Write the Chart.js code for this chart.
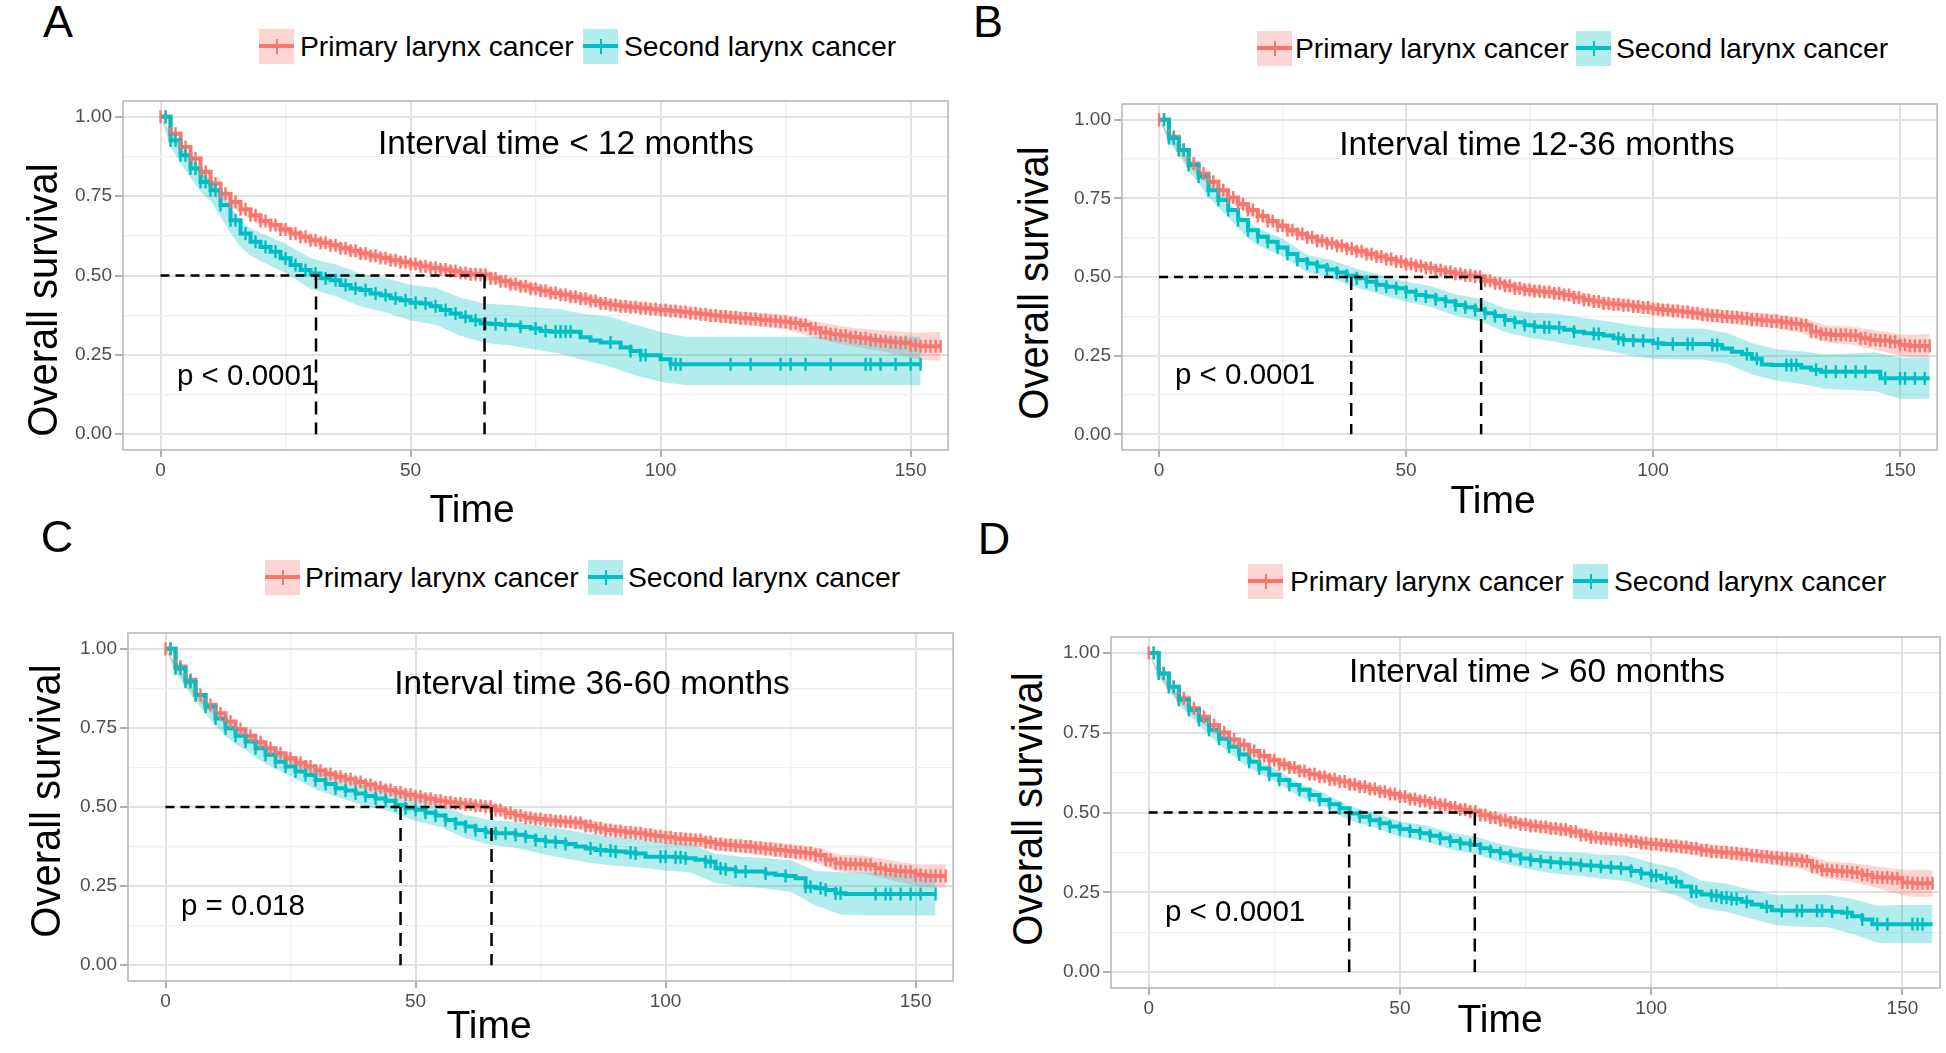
<!DOCTYPE html>
<html>
<head>
<meta charset="utf-8">
<script src="https://cdn.jsdelivr.net/npm/chart.js@4.4.1/dist/chart.umd.min.js"></script>
<style>
  body { margin: 0; width: 1946px; height: 1053px; background: #fff; position: relative; overflow: hidden;
         font-family: "Liberation Sans", Arial, sans-serif; }
  canvas { position: absolute; }
  .t { position: absolute; white-space: nowrap; line-height: 1; color: #000; z-index: 2; }
  .key { position: absolute; width: 35px; height: 35px; z-index: 2; }
  .key i { position: absolute; left: 0; right: 0; top: 15.5px; height: 4px; }
  .key b { position: absolute; left: 16.5px; top: 10px; width: 2px; height: 15px; }
</style>
</head>
<body>
<script>
// time grid of the curves (months)
const months = [0,2,4,6,8,10,12,14,16,18,20,22,24,26,28,30,32,34,36,38,40,42,44,46,48,50,52,54,56,58,
  60,62,64,66,68,70,72,74,76,78,80,82,84,86,88,90,92,94,96,98,100,102,104,106,108,110,112,114,116,118,
  120,122,124,126,128,130,132,134,136,138,140,142,144,146,148,150,152,154,156];
const oddMonths = [1,3,5,7,9,11,13,15,17,19,21,23,25,27,29,31,33,35,37,39,41,43,45,47,49,51,53,55,57,59,
  61,63,65,67,69,71,73,75,77,79,81,83,85,87,89,91,93,95,97,99,101,103,105,107,109,111,113,115,117,119,
  121,123,125,127,129,131,133,135,137,139,141,143,145,147,149,151,153,155];
const bandMonths = [0,2,4,6,8,10,12,14,16,18,20,25,30,35,40,45,50,55,60,65,70,75,80,85,90,95,100,105,110,
  115,120,125,130,135,140,145,150,152,154,156];

const xMajor = [0, 50, 100, 150];
const xMinor = [25, 75, 125];
const yMajor = [0, 0.25, 0.5, 0.75, 1];
const yMinor = [0.125, 0.375, 0.625, 0.875];
const seriesNames = ['Primary larynx cancer', 'Second larynx cancer'];

// ---- A: interval < 12 months
const aPrimary = [1.000,0.947,0.905,0.869,0.827,0.790,0.758,0.732,0.709,0.690,
  0.672,0.659,0.645,0.632,0.622,0.611,0.603,0.595,0.586,0.578,
  0.569,0.562,0.555,0.548,0.542,0.536,0.529,0.524,0.519,0.514,
  0.508,0.504,0.502,0.491,0.482,0.473,0.466,0.458,0.452,0.445,
  0.439,0.433,0.427,0.420,0.412,0.407,0.403,0.400,0.397,0.394,
  0.391,0.388,0.385,0.381,0.378,0.374,0.371,0.368,0.365,0.363,
  0.360,0.357,0.354,0.350,0.344,0.333,0.320,0.315,0.311,0.306,
  0.302,0.297,0.293,0.290,0.288,0.280,0.277,0.277,0.277];
const aSecond = [1.000,0.926,0.879,0.837,0.795,0.769,0.722,0.674,0.632,0.606,
  0.590,0.575,0.554,0.533,0.517,0.506,0.491,0.485,0.470,0.459,
  0.454,0.443,0.438,0.428,0.422,0.414,0.412,0.403,0.391,0.380,
  0.370,0.359,0.349,0.347,0.345,0.343,0.338,0.333,0.325,0.323,
  0.323,0.323,0.305,0.295,0.289,0.289,0.273,0.262,0.249,0.249,
  0.236,0.220,0.220,0.220,0.220,0.220,0.220,0.220,0.220,0.220,
  0.220,0.220,0.220,0.220,0.220,0.220,0.220,0.220,0.220,0.220,
  0.220,0.220,0.220,0.220,0.220,0.220,0.220];
const aPrimaryLo = [1.000,.939,.896,.859,.817,.779,.747,.720,.697,.678,.660,.632,.598,.582,.555,.541,.522,.510,.493,.487,
  .458,.442,.423,.411,.390,.383,.373,.367,.355,.348,.339,.331,.307,.287,.272,.259,.240,.234,.233,.232];
const aPrimaryHi = [1.000,.955,.914,.879,.837,.801,.769,.744,.721,.702,.684,.658,.624,.608,.583,.569,.550,.538,.523,.517,
  .488,.474,.455,.443,.424,.417,.409,.403,.393,.388,.381,.377,.359,.343,.332,.327,.320,.320,.321,.322];
const aSecondLo = [1.000,.906,.854,.809,.764,.735,.685,.634,.590,.563,.546,.508,.458,.435,.402,.384,.358,.345,.310,.287,
  .279,.266,.253,.232,.212,.185,.165,.154,.154,.154,.154,.154,.154,.154,.154,.154,.154,.154];
const aSecondHi = [1.000,.946,.904,.865,.826,.803,.759,.714,.674,.649,.634,.600,.554,.535,.506,.492,.470,.461,.430,.411,
  .407,.400,.393,.378,.370,.345,.322,.307,.307,.307,.307,.307,.307,.307,.307,.307,.307,.307];
const aSecondCensor = [1,2,3,4,5,6,7,8,9,10,11,12,14,15,17,19,21,23,25,27,29,31,33,35,37,39,41,43,45,47,49,51,53,55,
  57,59,61,63,65,67,69,72,75,77,79,80,81,82,90,94,96,97,102,103,104,114,118,124,126,129,134,141,142,144,147,150,152];
const medianA = [31.1, 64.8];

// ---- B: interval 12-36 months
const bPrimary = [1.000,0.946,0.904,0.861,0.829,0.803,0.776,0.753,0.732,0.713,
  0.694,0.678,0.663,0.649,0.637,0.626,0.615,0.607,0.599,0.590,
  0.582,0.573,0.565,0.557,0.549,0.541,0.535,0.529,0.522,0.516,
  0.510,0.505,0.501,0.488,0.480,0.472,0.464,0.459,0.455,0.452,
  0.448,0.443,0.435,0.427,0.422,0.416,0.413,0.410,0.406,0.403,
  0.398,0.395,0.392,0.389,0.385,0.380,0.377,0.374,0.372,0.369,
  0.365,0.362,0.359,0.355,0.351,0.347,0.326,0.319,0.316,0.316,
  0.314,0.305,0.300,0.298,0.294,0.284,0.281,0.281,0.281];
const bSecond = [1.000,0.941,0.904,0.856,0.819,0.776,0.745,0.713,0.681,0.649,
  0.628,0.612,0.594,0.573,0.554,0.543,0.533,0.524,0.514,0.504,
  0.496,0.485,0.475,0.469,0.464,0.453,0.443,0.438,0.429,0.422,
  0.411,0.404,0.395,0.385,0.376,0.363,0.356,0.347,0.342,0.340,
  0.339,0.332,0.326,0.321,0.319,0.314,0.305,0.300,0.298,0.297,
  0.289,0.287,0.287,0.287,0.287,0.287,0.284,0.273,0.262,0.255,
  0.240,0.222,0.220,0.220,0.220,0.212,0.205,0.199,0.199,0.199,
  0.199,0.199,0.199,0.178,0.178,0.178,0.178,0.178,0.178];
const bPrimaryLo = [1.000,.938,.895,.851,.819,.792,.765,.741,.720,.701,.682,.650,.613,.594,.568,.551,.527,.514,.495,.486,
  .456,.443,.431,.418,.398,.392,.379,.373,.360,.353,.343,.336,.322,.292,.285,.269,.250,.245,.244,.243];
const bPrimaryHi = [1.000,.954,.913,.871,.839,.814,.787,.765,.744,.725,.706,.676,.639,.620,.596,.579,.555,.544,.525,.516,
  .488,.475,.465,.452,.434,.428,.417,.411,.400,.395,.387,.382,.372,.346,.343,.331,.318,.317,.318,.319];
const bSecondLo = [1.000,.929,.889,.838,.799,.754,.722,.689,.656,.623,.601,.566,.515,.495,.466,.444,.421,.405,.377,.359,
  .325,.307,.294,.280,.267,.252,.240,.238,.238,.224,.190,.170,.160,.144,.141,.137,.113,.113,.113,.113];
const bSecondHi = [1.000,.953,.919,.874,.839,.798,.768,.737,.706,.675,.655,.622,.571,.553,.526,.506,.485,.471,.445,.431,
  .401,.387,.384,.372,.361,.348,.338,.336,.336,.322,.290,.270,.264,.254,.257,.261,.243,.243,.243,.243];
const bSecondCensor = [1,2,3,4,5,6,8,10,12,14,16,18,20,22,24,26,28,30,32,34,36,38,40,42,44,46,48,50,52,54,56,58,60,
  62,64,66,68,70,72,74,76,78,79,81,84,88,89,93,94,96,98,101,104,107,108,112,113,119,121,127,128,129,133,135,137,
  139,141,143,147,150,151,153,155];
const medianB = [38.9, 65.2];

// ---- C: interval 36-60 months
const cPrimary = [1.000,0.944,0.902,0.854,0.823,0.796,0.770,0.746,0.725,0.705,
  0.686,0.670,0.654,0.640,0.628,0.615,0.604,0.596,0.588,0.579,
  0.570,0.562,0.554,0.546,0.539,0.533,0.526,0.520,0.515,0.511,
  0.508,0.504,0.501,0.490,0.481,0.473,0.466,0.462,0.458,0.455,
  0.453,0.450,0.440,0.433,0.427,0.424,0.420,0.417,0.412,0.408,
  0.404,0.400,0.398,0.396,0.389,0.383,0.380,0.377,0.375,0.371,
  0.368,0.364,0.360,0.357,0.354,0.348,0.333,0.322,0.320,0.319,
  0.317,0.306,0.301,0.298,0.295,0.285,0.282,0.282,0.282];
const cSecond = [1.000,0.938,0.896,0.854,0.817,0.780,0.749,0.725,0.707,0.686,
  0.665,0.643,0.628,0.612,0.601,0.585,0.573,0.559,0.552,0.543,
  0.535,0.527,0.520,0.506,0.496,0.491,0.482,0.473,0.459,0.448,
  0.438,0.427,0.420,0.417,0.417,0.412,0.406,0.396,0.391,0.389,
  0.383,0.375,0.369,0.364,0.362,0.359,0.356,0.353,0.343,0.343,
  0.343,0.341,0.338,0.333,0.327,0.306,0.303,0.296,0.296,0.296,
  0.290,0.285,0.282,0.275,0.248,0.243,0.238,0.227,0.225,0.225,
  0.225,0.225,0.225,0.225,0.225,0.225,0.225,0.225];
const cPrimaryLo = [1.000,.936,.893,.844,.813,.785,.759,.734,.713,.693,.674,.641,.602,.583,.556,.540,.519,.505,.493,.486,
  .457,.446,.436,.423,.406,.399,.385,.379,.363,.356,.346,.337,.323,.295,.288,.270,.251,.246,.245,.244];
const cPrimaryHi = [1.000,.952,.911,.864,.833,.807,.781,.758,.737,.717,.698,.667,.628,.609,.584,.568,.547,.535,.523,.516,
  .489,.478,.470,.457,.442,.435,.423,.417,.403,.398,.390,.383,.373,.349,.346,.332,.319,.318,.319,.320];
const cSecondLo = [1.000,.924,.879,.834,.795,.756,.724,.699,.680,.658,.636,.598,.555,.528,.503,.486,.456,.437,.401,.381,
  .371,.353,.337,.323,.314,.309,.299,.293,.260,.249,.242,.232,.188,.160,.157,.157,.157,.157,.157];
const cSecondHi = [1.000,.952,.913,.874,.839,.804,.774,.751,.734,.714,.694,.658,.615,.590,.567,.554,.526,.509,.475,.459,
  .453,.439,.429,.415,.404,.397,.387,.383,.352,.343,.338,.332,.298,.294,.293,.293,.293,.293,.293];
const cSecondCensor = [1,2,3,4,5,6,8,10,12,14,16,18,20,22,24,26,28,30,32,34,36,38,40,42,44,46,48,50,52,54,56,58,60,
  62,64,66,68,70,72,74,76,78,80,85,87,89,90,93,94,99,100,102,103,104,108,109,111,112,114,116,120,124,128,129,131,
  132,134,135,142,144,145,147,149,151,154];
const medianC = [47.0, 65.2];

// ---- D: interval > 60 months
const dPrimary = [1.000,0.936,0.894,0.858,0.827,0.800,0.774,0.751,0.729,0.712,
  0.693,0.677,0.664,0.651,0.641,0.630,0.620,0.612,0.604,0.597,
  0.588,0.581,0.574,0.565,0.558,0.550,0.542,0.536,0.530,0.524,
  0.516,0.509,0.503,0.492,0.484,0.476,0.469,0.463,0.458,0.455,
  0.450,0.447,0.440,0.429,0.422,0.419,0.416,0.413,0.409,0.404,
  0.401,0.398,0.395,0.392,0.388,0.382,0.377,0.375,0.372,0.369,
  0.365,0.362,0.358,0.355,0.352,0.348,0.330,0.320,0.317,0.315,
  0.312,0.304,0.297,0.296,0.294,0.281,0.278,0.278,0.278];
const dSecond = [1.000,0.936,0.894,0.853,0.821,0.790,0.759,0.731,0.706,0.682,
  0.659,0.638,0.618,0.602,0.586,0.571,0.555,0.539,0.526,0.513,
  0.497,0.487,0.476,0.466,0.456,0.448,0.442,0.435,0.427,0.419,
  0.411,0.403,0.398,0.388,0.379,0.372,0.365,0.356,0.351,0.347,
  0.344,0.341,0.339,0.335,0.333,0.330,0.328,0.325,0.317,0.309,
  0.302,0.294,0.283,0.268,0.252,0.243,0.239,0.233,0.229,0.220,
  0.212,0.205,0.194,0.192,0.192,0.192,0.192,0.192,0.189,0.186,
  0.175,0.165,0.150,0.150,0.150,0.150,0.150,0.150,0.150];
const dPrimaryLo = [1.000,.928,.885,.848,.817,.789,.763,.739,.717,.700,.681,.651,.617,.599,.574,.560,.536,.521,.501,.488,
  .460,.447,.433,.423,.401,.395,.382,.376,.362,.354,.343,.335,.323,.293,.282,.263,.241,.236,.236,.236];
const dPrimaryHi = [1.000,.944,.903,.868,.837,.811,.785,.763,.741,.724,.705,.677,.643,.625,.602,.588,.564,.551,.531,.518,
  .492,.479,.467,.457,.437,.431,.420,.414,.402,.396,.387,.381,.373,.347,.342,.331,.321,.320,.320,.320];
const dSecondLo = [1.000,.926,.882,.839,.806,.774,.742,.713,.688,.663,.640,.598,.551,.518,.475,.453,.424,.410,.385,.371,
  .343,.325,.310,.303,.292,.285,.261,.241,.200,.189,.167,.147,.142,.140,.120,.092,.090,.090,.090,.090];
const dSecondHi = [1.000,.946,.906,.867,.836,.806,.776,.749,.724,.701,.678,.638,.591,.560,.519,.499,.472,.460,.437,.425,
  .401,.387,.378,.375,.368,.365,.343,.325,.286,.277,.257,.241,.242,.242,.230,.208,.210,.210,.210,.210];
const dSecondCensor = [1,2,3,4,5,6,8,10,12,14,16,18,20,22,24,26,28,30,32,34,36,38,40,42,44,46,48,50,52,54,56,58,60,
  62,64,66,68,70,72,74,76,78,80,82,84,86,88,90,92,94,96,98,100,101,103,105,108,109,112,113,114,115,116,117,119,
  123,126,129,130,133,134,136,139,142,145,147,152,153,154];
const medianD = [39.9, 64.9];

// ---- look and placement
const RED = '#F8766D', TEAL = '#00BFC4';
const RED_BAND = 'rgba(248,118,109,0.3)', TEAL_BAND = 'rgba(0,191,196,0.3)';
const FONT = '"Liberation Sans", Arial, sans-serif';
const PAD_L = 60, PAD_T = 20, PAD_R = 6, PAD_B = 45;

const panels = [
  { letter: 'A', title: 'Interval time < 12 months', p: 'p < 0.0001',
    primary: aPrimary, second: aSecond, pLo: aPrimaryLo, pHi: aPrimaryHi, sLo: aSecondLo, sHi: aSecondHi,
    censor: aSecondCensor, median: medianA,
    box: [123, 101, 951, 450], letterAt: [58, 21], legendY: 46, keysX: [259, 583], textsX: [300, 624],
    titleAt: [566, 143], pAt: [177, 375], yTitleAt: [42, 300], xTitleAt: [472, 508] },
  { letter: 'B', title: 'Interval time 12-36 months', p: 'p < 0.0001',
    primary: bPrimary, second: bSecond, pLo: bPrimaryLo, pHi: bPrimaryHi, sLo: bSecondLo, sHi: bSecondHi,
    censor: bSecondCensor, median: medianB,
    box: [1122, 104, 1940, 450], letterAt: [988, 21], legendY: 48, keysX: [1257, 1576], textsX: [1295, 1616],
    titleAt: [1537, 144], pAt: [1175, 374], yTitleAt: [1033, 283], xTitleAt: [1493, 499] },
  { letter: 'C', title: 'Interval time 36-60 months', p: 'p = 0.018',
    primary: cPrimary, second: cSecond, pLo: cPrimaryLo, pHi: cPrimaryHi, sLo: cSecondLo, sHi: cSecondHi,
    censor: cSecondCensor, median: medianC,
    box: [128, 633, 956, 981], letterAt: [57, 536], legendY: 577, keysX: [265, 588], textsX: [305, 628],
    titleAt: [592, 683], pAt: [181, 905], yTitleAt: [45, 801], xTitleAt: [489, 1024] },
  { letter: 'D', title: 'Interval time > 60 months', p: 'p < 0.0001',
    primary: dPrimary, second: dSecond, pLo: dPrimaryLo, pHi: dPrimaryHi, sLo: dSecondLo, sHi: dSecondHi,
    censor: dSecondCensor, median: medianD,
    box: [1111, 637, 1943, 988], letterAt: [994, 538], legendY: 581, keysX: [1248, 1573], textsX: [1290, 1614],
    titleAt: [1537, 671], pAt: [1165, 911], yTitleAt: [1027, 809], xTitleAt: [1500, 1018] }
];

// value of the step curve at time t (last point at or before t)
function stepValue(vals, t) {
  let v = null;
  for (let i = 0; i < vals.length; i++) {
    if (months[i] <= t) v = vals[i]; else break;
  }
  return v;
}

function curveSet(vals, color, order) {
  return { data: vals.map((v, i) => ({ x: months[i], y: v })), borderColor: color, borderWidth: 4,
    stepped: 'before', pointRadius: 0, fill: false, order };
}

function censorSet(vals, times, color, order) {
  const end = months[vals.length - 1];
  return { data: times.filter(t => t <= end).map(t => ({ x: t, y: stepValue(vals, t) })),
    showLine: false, pointStyle: 'line', pointRotation: 90, pointRadius: 6.5, pointBorderWidth: 2.4,
    pointBorderColor: color, borderColor: color, backgroundColor: color, order };
}

function bandSets(lo, hi, color, order) {
  return [
    { data: hi.map((v, i) => ({ x: bandMonths[i], y: v })), borderWidth: 0, borderColor: 'rgba(0,0,0,0)',
      pointRadius: 0, fill: '+1', backgroundColor: color, order },
    { data: lo.map((v, i) => ({ x: bandMonths[i], y: v })), borderWidth: 0, borderColor: 'rgba(0,0,0,0)',
      pointRadius: 0, fill: false, order }
  ];
}

function dashSet(points, dash) {
  return { data: points, borderColor: '#000', borderWidth: 2.5, borderDash: dash, pointRadius: 0, fill: false, order: 0 };
}

const panelBorder = {
  id: 'panelBorder',
  afterDatasetsDraw(chart) {
    const { ctx, chartArea: a } = chart;
    ctx.save();
    ctx.strokeStyle = '#b9b9b9';
    ctx.lineWidth = 1.6;
    ctx.strokeRect(a.left, a.top, a.right - a.left, a.bottom - a.top);
    ctx.restore();
  }
};

const xTicks = xMajor.concat(xMinor).sort((a, b) => a - b);
const yTicks = yMajor.concat(yMinor).sort((a, b) => a - b);
const redCensorTimes = months.concat(oddMonths);

function addText(str, x, y, size, transform) {
  const d = document.createElement('div');
  d.className = 't';
  d.textContent = str;
  d.style.left = x + 'px';
  d.style.top = y + 'px';
  d.style.fontSize = size + 'px';
  d.style.transform = transform || 'translate(-50%,-50%)';
  document.body.appendChild(d);
}

function addKey(x, cy, line, band) {
  const k = document.createElement('div');
  k.className = 'key';
  k.style.left = x + 'px';
  k.style.top = (cy - 17.5) + 'px';
  k.style.background = band;
  k.innerHTML = '<i style="background:' + line + '"></i><b style="background:' + line + '"></b>';
  document.body.appendChild(k);
}

panels.forEach(pn => {
  const [L, T, R, B] = pn.box;
  const cv = document.createElement('canvas');
  cv.width = (R - L) + PAD_L + PAD_R;
  cv.height = (B - T) + PAD_T + PAD_B;
  cv.style.left = (L - PAD_L) + 'px';
  cv.style.top = (T - PAD_T) + 'px';
  document.body.appendChild(cv);

  const datasets = [
    dashSet([{ x: 0, y: 0.5 }, { x: pn.median[1], y: 0.5 }], [9, 6]),
    dashSet([{ x: pn.median[0], y: 0.5 }, { x: pn.median[0], y: 0 }], [13, 8]),
    dashSet([{ x: pn.median[1], y: 0.5 }, { x: pn.median[1], y: 0 }], [13, 8]),
    censorSet(pn.second, pn.censor, TEAL, 1),
    censorSet(pn.primary, redCensorTimes, RED, 2),
    curveSet(pn.second, TEAL, 3),
    curveSet(pn.primary, RED, 4),
    ...bandSets(pn.sLo, pn.sHi, TEAL_BAND, 5),
    ...bandSets(pn.pLo, pn.pHi, RED_BAND, 6)
  ];

  new Chart(cv, {
    type: 'line',
    data: { datasets },
    options: {
      responsive: false,
      animation: false,
      devicePixelRatio: 1,
      events: [],
      layout: { padding: { left: 6, top: PAD_T, right: PAD_R, bottom: 0 } },
      plugins: { legend: { display: false }, tooltip: { enabled: false } },
      scales: {
        x: {
          type: 'linear', min: -7.5, max: 157.5, bounds: 'data',
          afterBuildTicks: s => { s.ticks = xTicks.map(v => ({ value: v })); },
          afterFit: s => { s.height = PAD_B; },
          ticks: { autoSkip: false, maxRotation: 0, padding: 2, color: '#4d4d4d',
                   font: { family: FONT, size: 19 },
                   callback: v => xMajor.includes(v) ? String(v) : '' },
          grid: {
            color: c => xMajor.includes(c.tick.value) ? '#e1e1e1' : '#efefef',
            lineWidth: c => xMajor.includes(c.tick.value) ? 2 : 1.3,
            tickLength: 7, tickWidth: 1.8,
            tickColor: c => xMajor.includes(c.tick.value) ? '#a8a8a8' : 'rgba(0,0,0,0)'
          },
          border: { display: false }
        },
        y: {
          type: 'linear', min: -0.05, max: 1.05, bounds: 'data',
          afterBuildTicks: s => { s.ticks = yTicks.map(v => ({ value: v })); },
          afterFit: s => { s.width = PAD_L - 6; },
          ticks: { autoSkip: false, padding: 3, color: '#4d4d4d',
                   font: { family: FONT, size: 19 },
                   callback: v => yMajor.includes(v) ? v.toFixed(2) : '' },
          grid: {
            color: c => yMajor.includes(c.tick.value) ? '#e1e1e1' : '#efefef',
            lineWidth: c => yMajor.includes(c.tick.value) ? 2 : 1.3,
            tickLength: 8, tickWidth: 1.8,
            tickColor: c => yMajor.includes(c.tick.value) ? '#a8a8a8' : 'rgba(0,0,0,0)'
          },
          border: { display: false }
        }
      }
    },
    plugins: [panelBorder]
  });

  // panel letter, legend, annotations, axis titles
  addText(pn.letter, pn.letterAt[0], pn.letterAt[1], 45);
  addKey(pn.keysX[0], pn.legendY, RED, RED_BAND);
  addKey(pn.keysX[1], pn.legendY, TEAL, TEAL_BAND);
  addText(seriesNames[0], pn.textsX[0], pn.legendY, 28.3, 'translate(0,-50%)');
  addText(seriesNames[1], pn.textsX[1], pn.legendY, 28.3, 'translate(0,-50%)');
  addText(pn.title, pn.titleAt[0], pn.titleAt[1], 33.4);
  addText(pn.p, pn.pAt[0], pn.pAt[1], 29.5, 'translate(0,-50%)');
  addText('Overall survival', pn.yTitleAt[0], pn.yTitleAt[1], 40, 'translate(-50%,-50%) rotate(-90deg) scale(1,1.08)');
  addText('Time', pn.xTitleAt[0], pn.xTitleAt[1], 39);
});
</script>
</body>
</html>
